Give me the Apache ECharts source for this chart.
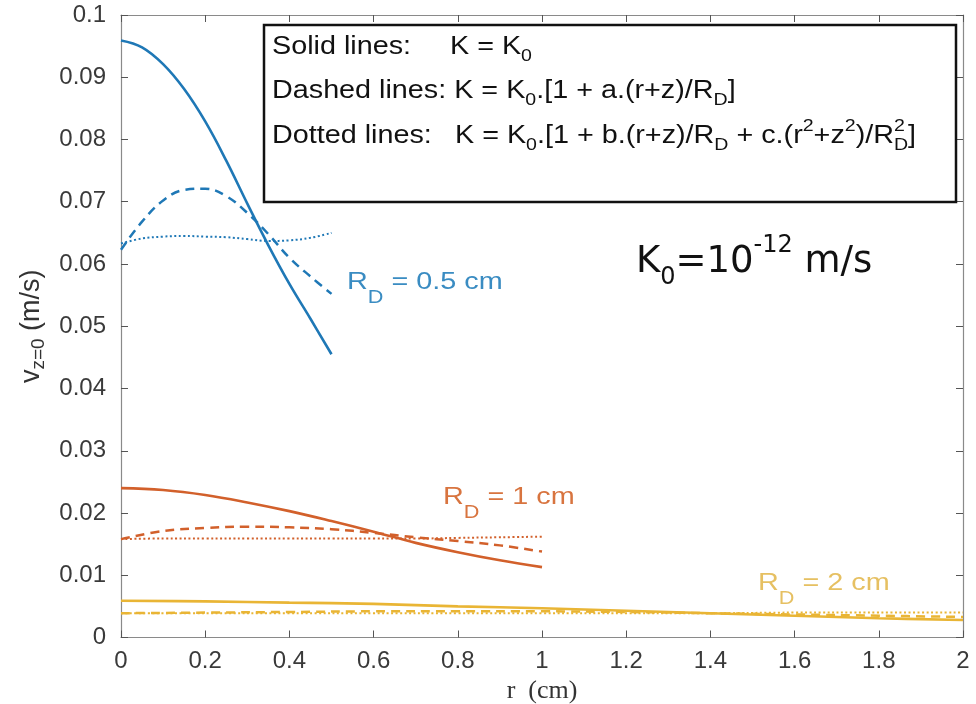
<!DOCTYPE html>
<html><head><meta charset="utf-8">
<script src="https://cdn.jsdelivr.net/npm/echarts@6/dist/echarts.min.js"></script>
<style>html,body{margin:0;padding:0;background:#fff}#c{width:976px;height:704px}</style>
</head><body><div id="c"></div>
<script>
// ---- data ----
const rBlue   = [0,0.05,0.1,0.15,0.2,0.25,0.3,0.35,0.4,0.45,0.5];
const blueSolid  = [0.0959,0.0948,0.0921,0.0881,0.0829,0.0766,0.0697,0.0630,0.0568,0.0512,0.0455];
const blueDashed = [0.0623,0.0668,0.0702,0.0719,0.0721,0.0709,0.0682,0.0648,0.0610,0.0580,0.0552];
const blueDotted = [0.0633,0.0641,0.0644,0.0645,0.0644,0.0643,0.0640,0.0637,0.0638,0.0642,0.0650];

const rOrange = [0,0.1,0.2,0.3,0.4,0.5,0.6,0.7,0.8,0.9,1.0];
const orangeSolid  = [0.0240,0.0237,0.0229,0.0217,0.0203,0.0187,0.0170,0.0152,0.0137,0.0124,0.0113];
const orangeDashed = [0.0158,0.0171,0.0176,0.0178,0.0177,0.0174,0.0168,0.0161,0.0155,0.0148,0.0138];
const orangeDotted = [0.0158,0.0159,0.0159,0.0159,0.0159,0.0159,0.0159,0.0159,0.0160,0.0161,0.0162];

const rYellow = [0,0.2,0.4,0.6,0.8,1.0,1.2,1.4,1.6,1.8,2.0];
const yellowSolid  = [0.0059,0.0058,0.0056,0.0054,0.0050,0.0047,0.0043,0.0039,0.0035,0.0031,0.0028];
const yellowDashed = [0.0039,0.0040,0.0041,0.0042,0.0042,0.0042,0.0041,0.0039,0.0037,0.0035,0.0033];
const yellowDotted = [0.0039,0.0039,0.0039,0.0039,0.0039,0.0039,0.0039,0.0039,0.0040,0.0040,0.0040];

const xMin = 0, xMax = 2, xStep = 0.2;
const yMin = 0, yMax = 0.1, yStep = 0.01;

// ---- styling ----
const C_BLUE = '#1f78b6', C_ORANGE = '#d2602b', C_YELLOW = '#e9b535';
const T_BLUE = '#3a8cc2', T_ORANGE = '#d8743f', T_YELLOW = '#e6c062';
const AX = '#8a8a8a', LAB = '#3a3a3a';

function pts(xs, ys){ return xs.map((x,i)=>[x, ys[i]]); }
function mk(name, xs, ys, color, kind){
  const ls = {color: color, width: 2.6, type: 'solid'};
  if (kind === 'dashed') { ls.type = [9,6]; ls.width = 2.5; }
  if (kind === 'dotted') { ls.type = [2,2.5]; ls.width = 2; }
  return {name, type:'line', data: pts(xs, ys), showSymbol:false, symbol:'none',
          smooth:0.4, lineStyle: ls, itemStyle:{color}, z: 3, silent:true};
}

const series = [
  mk('b-solid', rBlue, blueSolid, C_BLUE, 'solid'),
  mk('b-dashed', rBlue, blueDashed, C_BLUE, 'dashed'),
  mk('b-dotted', rBlue, blueDotted, C_BLUE, 'dotted'),
  mk('o-solid', rOrange, orangeSolid, C_ORANGE, 'solid'),
  mk('o-dashed', rOrange, orangeDashed, C_ORANGE, 'dashed'),
  mk('o-dotted', rOrange, orangeDotted, C_ORANGE, 'dotted'),
  mk('y-solid', rYellow, yellowSolid, C_YELLOW, 'solid'),
  mk('y-dashed', rYellow, yellowDashed, C_YELLOW, 'dashed'),
  mk('y-dotted', rYellow, yellowDotted, C_YELLOW, 'dotted')
];

const F = 'Liberation Sans, Arial, Helvetica, sans-serif';
const legRich = {
  n:  {fontSize:25, fontFamily:F, fill:'#111', lineHeight:36},
  s:  {fontSize:17, fontFamily:F, fill:'#111', lineHeight:17, verticalAlign:'bottom'},
  p:  {fontSize:17, fontFamily:F, fill:'#111', lineHeight:27, verticalAlign:'top'},
  p0: {fontSize:17, fontFamily:F, fill:'#111', lineHeight:27, verticalAlign:'top', width:0}
};
function annRich(col){
  return {
    a: {fontSize:24, fontFamily:F, fill:col, lineHeight:51},
    b: {fontSize:18, fontFamily:F, fill:col, lineHeight:18, verticalAlign:'bottom'}
  };
}
function txt(x, y, text, rich, sx){
  return {type:'text', x:x, y:y, scaleX: sx||1.2, z:10,
    style:{text:text, rich:rich, align:'left', verticalAlign:'middle', fontFamily:F, fontSize:24}};
}

const graphic = [
  {type:'rect', shape:{x:264, y:25, width:692, height:177}, z:9,
   style:{fill:'#fff', stroke:'#111', lineWidth:2.5}},
  txt(272, 47, '{n|Solid lines:}', legRich, 1.15),
  txt(450, 47, '{n|K = K}{s|0}', legRich, 1.15),
  txt(272, 91, '{n|Dashed lines: K = K}{s|0}{n|.[1 + a.(r+z)/R}{s|D}{n|]}', legRich, 1.15),
  txt(272, 136, '{n|Dotted lines:}', legRich, 1.15),
  txt(455, 136, '{n|K = K}{s|0}{n|.[1 + b.(r+z)/R}{s|D}{n| + c.(r}{p|2}{n|+z}{p|2}{n|)/R}{p0|2}{s|D}{n|]}', legRich, 1.15),
  txt(347, 282, '{a|R}{b|D}{a| = 0.5 cm}', annRich(T_BLUE)),
  txt(443, 497, '{a|R}{b|D}{a| = 1 cm}', annRich(T_ORANGE)),
  txt(758, 583, '{a|R}{b|D}{a| = 2 cm}', annRich(T_YELLOW)),
  {type:'text', x:636, y:262, z:10,
   style:{text:'{k|K}{ks|0}{k|=10}{kp|-12}{k| m/s}', align:'left', verticalAlign:'middle',
     rich:{
       k:  {fontSize:37, fontFamily:'DejaVu Sans', fill:'#111', lineHeight:56},
       ks: {fontSize:24, fontFamily:'DejaVu Sans', fill:'#111', lineHeight:24, verticalAlign:'bottom'},
       kp: {fontSize:24, fontFamily:'DejaVu Sans', fill:'#111', lineHeight:40, verticalAlign:'top'}
     }}}
];

const axLine = {show:true, onZero:false, lineStyle:{color:AX, width:1.2}};
const axTick = {show:true, inside:true, length:7, lineStyle:{color:'#555', width:1}};

const option = {
  animation:false,
  backgroundColor:'#fff',
  grid:{left:121, right:13, top:15, bottom:66.5, show:false, containLabel:false, outerBoundsMode:'none'},
  xAxis:[
    {type:'value', min:xMin, max:xMax, interval:xStep, position:'bottom',
     axisLine:axLine, axisTick:axTick, splitLine:{show:false},
     axisLabel:{fontFamily:F, fontSize:24, color:LAB, margin:12},
     name:'r  (cm)', nameLocation:'middle', nameGap:38,
     nameTextStyle:{fontFamily:'Liberation Serif, DejaVu Serif, serif', fontSize:26, color:'#333'}},
    {type:'value', min:xMin, max:xMax, interval:xStep, position:'top',
     axisLine:axLine, axisTick:axTick, splitLine:{show:false}, axisLabel:{show:false}}
  ],
  yAxis:[
    {type:'value', min:yMin, max:yMax, interval:yStep, position:'left',
     axisLine:axLine, axisTick:axTick, splitLine:{show:false},
     axisLabel:{fontFamily:F, fontSize:24, color:LAB, margin:15},
     name:'{v|v}{vs|z=0}{v| (m/s)}', nameLocation:'middle', nameGap:62, nameRotate:90,
     nameTextStyle:{rich:{
       v:{fontSize:27, fontFamily:F, color:'#333', lineHeight:34},
       vs:{fontSize:19, fontFamily:F, color:'#333', lineHeight:19, verticalAlign:'bottom'}
     }}},
    {type:'value', min:yMin, max:yMax, interval:yStep, position:'right',
     axisLine:axLine, axisTick:axTick, splitLine:{show:false}, axisLabel:{show:false}}
  ],
  series: series,
  graphic: graphic
};

const chart = echarts.init(document.getElementById('c'), null, {renderer:'canvas'});
chart.setOption(option);
</script>
</body></html>
